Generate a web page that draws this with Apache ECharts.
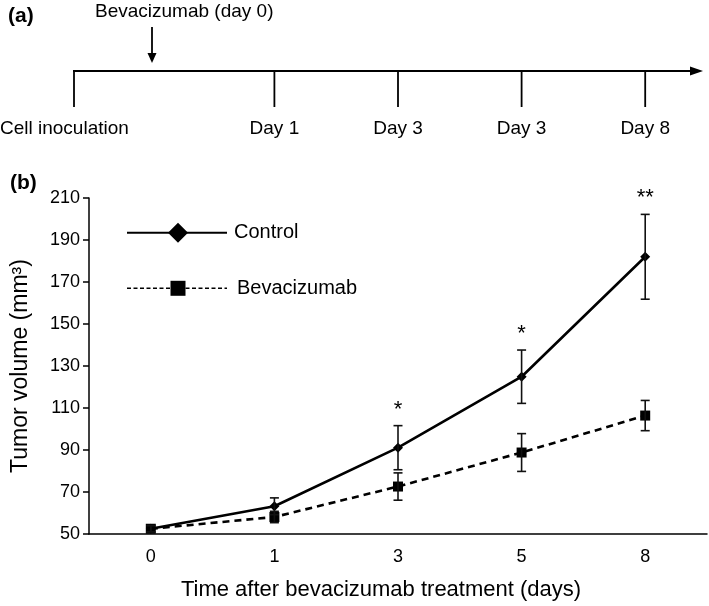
<!DOCTYPE html>
<html>
<head>
<meta charset="utf-8">
<script src="https://cdn.jsdelivr.net/npm/echarts@6/dist/echarts.min.js"></script>
<style>
html,body{margin:0;padding:0;background:#fff;}
#main{width:709px;height:606px;}
</style>
</head>
<body>
<div id="main"></div>
<script>
// ---- data ----
const days = ['0', '1', '3', '5', '8'];
const controlMean = [52.5, 63.2, 91.1, 124.9, 182.0];
const controlErr = [1.5, 4.0, 10.5, 12.7, 20.2];
const bevMean = [52.5, 58.1, 72.6, 88.8, 106.4];
const bevErr = [1.5, 2.7, 6.5, 9.0, 7.2];
const stars = ['', '', '*', '*', '**'];
const yTicks = [50, 70, 90, 110, 130, 150, 170, 190, 210];
const seriesNames = ['Control', 'Bevacizumab'];
const timelineLabels = ['Cell inoculation', 'Day 1', 'Day 3', 'Day 3', 'Day 8'];
const timelineDayIndex = [null, 1, 2, 3, 4];
const treatmentLabel = 'Bevacizumab (day 0)';
const xTitle = 'Time after bevacizumab treatment (days)';
const yTitle = 'Tumor volume (mm³)';

const FONT = '"Liberation Sans", Arial, Helvetica, sans-serif';
const chart = echarts.init(document.getElementById('main'), null, {renderer: 'canvas'});

function errData(mean, err) {
  return mean.map((m, i) => [i, m, err[i]]);
}

function makeErrRender(withStars) {
  return function (params, api) {
    const x = api.value(0), m = api.value(1), e = api.value(2);
    const top = api.coord([x, m + e]);
    const bot = api.coord([x, m - e]);
    const hw = 4.5;
    const st = {stroke: '#111', lineWidth: 1.6};
    const children = [
      {type: 'line', shape: {x1: top[0], y1: top[1], x2: bot[0], y2: bot[1]}, style: st},
      {type: 'line', shape: {x1: top[0] - hw, y1: top[1], x2: top[0] + hw, y2: top[1]}, style: st},
      {type: 'line', shape: {x1: bot[0] - hw, y1: bot[1], x2: bot[0] + hw, y2: bot[1]}, style: st}
    ];
    if (withStars && stars[params.dataIndex]) {
      children.push({
        type: 'text',
        style: {
          text: stars[params.dataIndex], x: top[0], y: top[1] - 16,
          align: 'center', verticalAlign: 'middle',
          font: '22px ' + FONT, fill: '#000'
        }
      });
    }
    return {type: 'group', children};
  };
}

const option = {
  backgroundColor: '#fff',
  animation: false,
  grid: {left: 89, right: 2, top: 198, bottom: 68, containLabel: false},
  xAxis: {
    type: 'category',
    data: days,
    boundaryGap: true,
    axisLine: {lineStyle: {color: '#000', width: 1.5}},
    axisTick: {show: false},
    axisLabel: {color: '#000', fontSize: 18, fontFamily: FONT, margin: 14},
    splitLine: {show: false},
    name: xTitle,
    nameLocation: 'middle',
    nameGap: 45,
    nameTextStyle: {color: '#000', fontSize: 22, fontFamily: FONT, padding: [0, 34, 0, 0]}
  },
  yAxis: {
    type: 'value',
    min: yTicks[0],
    max: yTicks[yTicks.length - 1],
    interval: yTicks[1] - yTicks[0],
    axisLine: {show: true, lineStyle: {color: '#000', width: 1.5}},
    axisTick: {show: true, length: 6, lineStyle: {color: '#000', width: 1.5}},
    axisLabel: {color: '#000', fontSize: 18, fontFamily: FONT, margin: 9},
    splitLine: {show: false},
    name: yTitle,
    nameLocation: 'middle',
    nameGap: 57,
    nameRotate: 90,
    nameTextStyle: {color: '#000', fontSize: 23, fontFamily: FONT}
  },
  series: [
    {
      name: seriesNames[0],
      type: 'line',
      data: controlMean,
      symbol: 'diamond',
      symbolSize: 10,
      itemStyle: {color: '#000'},
      lineStyle: {color: '#000', width: 2.6, type: 'solid'},
      z: 4
    },
    {
      name: seriesNames[1],
      type: 'line',
      data: bevMean,
      symbol: 'rect',
      symbolSize: 10,
      itemStyle: {color: '#000'},
      lineStyle: {color: '#000', width: 2.6, type: [7, 5]},
      z: 3
    },
    {
      type: 'custom',
      data: errData(controlMean, controlErr),
      renderItem: makeErrRender(true),
      encode: {x: 0, y: 1},
      z: 5
    },
    {
      type: 'custom',
      data: errData(bevMean, bevErr),
      renderItem: makeErrRender(false),
      encode: {x: 0, y: 1},
      z: 5
    }
  ]
};
chart.setOption(option);

// ---- panel (a) timeline and legend, drawn as graphic ----
const lineY = 71, tickBottom = 107, labelY = 129;
const g = [];
const stroke = {stroke: '#000', lineWidth: 1.8};
g.push({type: 'text', left: 8, top: 6, style: {text: '(a)', font: 'bold 21px ' + FONT, fill: '#000'}});
g.push({type: 'text', x: 95, y: 12, style: {text: treatmentLabel, font: '19px ' + FONT, fill: '#000', verticalAlign: 'middle'}});
// treatment arrow
g.push({type: 'line', shape: {x1: 152, y1: 27, x2: 152, y2: 55}, style: stroke});
g.push({type: 'polygon', shape: {points: [[147.5, 53], [156.5, 53], [152, 63]]}, style: {fill: '#000'}});
// main timeline
g.push({type: 'line', shape: {x1: 73, y1: lineY, x2: 692, y2: lineY}, style: stroke});
g.push({type: 'polygon', shape: {points: [[690, lineY - 4.5], [703, lineY], [690, lineY + 4.5]]}, style: {fill: '#000'}});
timelineLabels.forEach((lab, i) => {
  let x;
  if (timelineDayIndex[i] === null) {
    x = 74;
  } else {
    x = chart.convertToPixel({xAxisIndex: 0}, timelineDayIndex[i]);
  }
  g.push({type: 'line', shape: {x1: x, y1: lineY, x2: x, y2: tickBottom}, style: stroke});
  g.push({type: 'text', x: i === 0 ? 0 : x, y: labelY,
    style: {text: lab, font: '19px ' + FONT, fill: '#000', align: i === 0 ? 'left' : 'center', verticalAlign: 'middle'}});
});
// panel (b) label
g.push({type: 'text', left: 10, top: 173, style: {text: '(b)', font: 'bold 21px ' + FONT, fill: '#000'}});
// legend
const legY = [232.7, 288.3];
g.push({type: 'line', shape: {x1: 127, y1: legY[0], x2: 227, y2: legY[0]}, style: {stroke: '#000', lineWidth: 2}});
g.push({type: 'polygon', shape: {points: [[178, legY[0] - 10], [188, legY[0]], [178, legY[0] + 10], [168, legY[0]]]}, style: {fill: '#000'}});
g.push({type: 'text', x: 234, y: legY[0], style: {text: seriesNames[0], font: '20px ' + FONT, fill: '#000', verticalAlign: 'middle'}});
g.push({type: 'line', shape: {x1: 127, y1: legY[1], x2: 227, y2: legY[1]}, style: {stroke: '#000', lineWidth: 1.6, lineDash: [4, 2.5]}});
g.push({type: 'rect', shape: {x: 170.5, y: legY[1] - 7.5, width: 15, height: 15}, style: {fill: '#000'}});
g.push({type: 'text', x: 237, y: legY[1], style: {text: seriesNames[1], font: '20px ' + FONT, fill: '#000', verticalAlign: 'middle'}});

chart.setOption({graphic: {elements: g}});
</script>
</body>
</html>
